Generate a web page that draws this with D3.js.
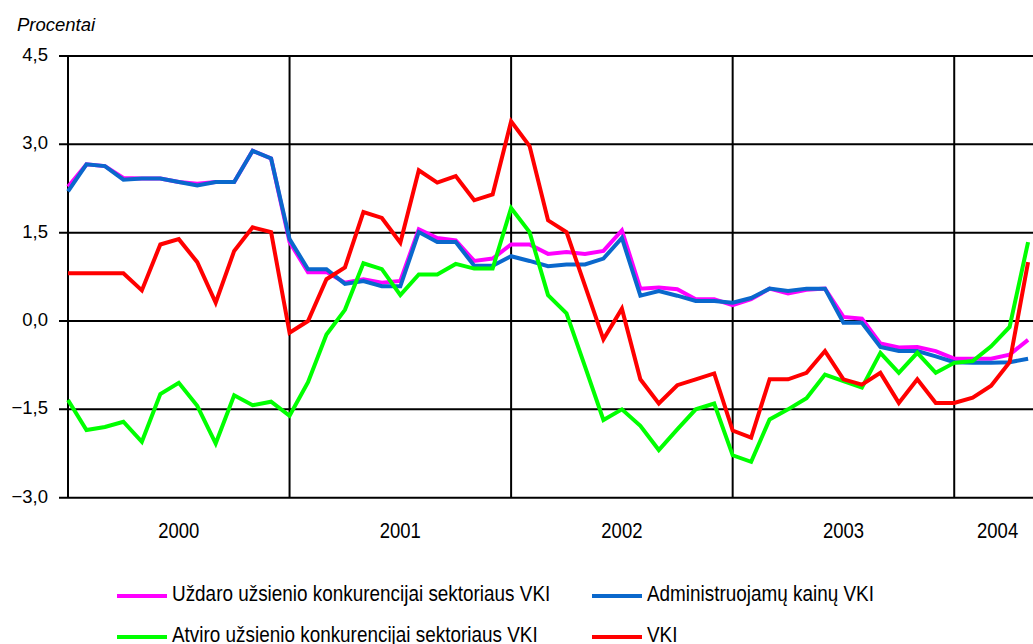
<!DOCTYPE html>
<html>
<head>
<meta charset="utf-8">
<script src="https://cdn.jsdelivr.net/npm/d3@7"></script>
<style>
    body { margin: 0; background: #fff; }
    svg { display: block; }
    text { font-family: "Liberation Sans", Arial, sans-serif; }
</style>
</head>
<body>
<div id="vki_chart"></div>
<script>
// monthly data, Jan 2000 .. May 2004
var years = ["2000", "2001", "2002", "2003", "2004"];

var uzdaro = [2.28, 2.66, 2.63, 2.43, 2.42, 2.42, 2.36, 2.33, 2.36, 2.36, 2.89, 2.76,
    1.34, 0.83, 0.83, 0.65, 0.71, 0.65, 0.68, 1.56, 1.41, 1.37, 1.02, 1.06,
    1.30, 1.30, 1.14, 1.17, 1.14, 1.19, 1.54, 0.55, 0.57, 0.54, 0.37, 0.37,
    0.27, 0.37, 0.55, 0.47, 0.53, 0.55, 0.07, 0.04, -0.38, -0.45, -0.44, -0.51,
    -0.64, -0.64, -0.64, -0.57, -0.32];

var administruojamu = [2.20, 2.66, 2.63, 2.40, 2.42, 2.42, 2.36, 2.30, 2.36, 2.36, 2.89, 2.76,
    1.39, 0.88, 0.88, 0.63, 0.68, 0.59, 0.59, 1.51, 1.34, 1.34, 0.94, 0.94,
    1.10, 1.02, 0.93, 0.96, 0.96, 1.06, 1.41, 0.43, 0.51, 0.43, 0.34, 0.34,
    0.31, 0.39, 0.55, 0.51, 0.55, 0.55, -0.03, -0.03, -0.44, -0.51, -0.51, -0.60,
    -0.70, -0.71, -0.71, -0.70, -0.64];

var atviro = [-1.34, -1.85, -1.80, -1.71, -2.05, -1.24, -1.05, -1.44, -2.08, -1.26, -1.43, -1.37,
    -1.61, -1.04, -0.23, 0.19, 0.98, 0.88, 0.44, 0.79, 0.79, 0.97, 0.89, 0.89,
    1.92, 1.51, 0.44, 0.13, -0.77, -1.68, -1.50, -1.78, -2.19, -1.84, -1.50, -1.40,
    -2.28, -2.39, -1.67, -1.50, -1.31, -0.91, -1.02, -1.13, -0.54, -0.88, -0.54, -0.88,
    -0.71, -0.68, -0.43, -0.10, 1.34];

var vki = [0.81, 0.81, 0.81, 0.81, 0.52, 1.30, 1.39, 1.00, 0.31, 1.19, 1.59, 1.51,
    -0.20, 0.00, 0.71, 0.91, 1.85, 1.75, 1.33, 2.56, 2.35, 2.46, 2.05, 2.15,
    3.39, 2.97, 1.71, 1.51, 0.60, -0.31, 0.21, -0.99, -1.40, -1.09, -0.99, -0.89,
    -1.86, -1.98, -0.99, -0.99, -0.88, -0.51, -0.99, -1.08, -0.88, -1.39, -0.99, -1.39,
    -1.39, -1.30, -1.10, -0.70, 1.00];

var yTicks = [-3, -1.5, 0, 1.5, 3, 4.5];

var series = [
    { name: "Uždaro užsienio konkurencijai sektoriaus VKI", values: uzdaro, color: "#ff00ff" },
    { name: "Administruojamų kainų VKI", values: administruojamu, color: "#0a68cc" },
    { name: "Atviro užsienio konkurencijai sektoriaus VKI", values: atviro, color: "#00ff00" },
    { name: "VKI", values: vki, color: "#ff0000" }
];

var width = 1033,
    height = 644;

var svg = d3.select("#vki_chart")
    .append("svg")
    .attr("width", width)
    .attr("height", height);

// x: month index (0 = Jan 2000), plot is cut a bit after May 2004
var lastMonth = 52.7;
var x = d3.scaleLinear()
    .domain([0, lastMonth])
    .range([68, 1041]);

var y = d3.scaleLinear()
    .domain([-3, 4.5])
    .range([497.7, 56]);

// no narrow font installed -> squeeze the normal one
var narrow = 0.84;

// horizontal grid + tick marks
svg.append("g")
    .selectAll("line")
    .data(yTicks)
    .enter()
    .append("line")
    .attr("x1", x(0) - 9)
    .attr("x2", x(lastMonth))
    .attr("y1", function(d) { return y(d) })
    .attr("y2", function(d) { return y(d) })
    .attr("stroke", "black")
    .attr("stroke-width", 2);

// vertical lines at year starts
svg.append("g")
    .selectAll("line")
    .data(years)
    .enter()
    .append("line")
    .attr("x1", function(d, i) { return x(i * 12) })
    .attr("x2", function(d, i) { return x(i * 12) })
    .attr("y1", y(4.5))
    .attr("y2", y(-3))
    .attr("stroke", "black")
    .attr("stroke-width", 2);

// y labels
svg.append("g")
    .selectAll("text")
    .data(yTicks)
    .enter()
    .append("text")
    .attr("x", 48)
    .attr("y", function(d) { return y(d) + 5 })
    .attr("text-anchor", "end")
    .style("font-size", "18.5px")
    .text(function(d) {
        return d3.format(".1f")(d).replace(".", ",").replace("-", "\u2013")
    });

svg.append("text")
    .attr("x", 17)
    .attr("y", 31)
    .style("font-size", "18.5px")
    .style("font-style", "italic")
    .text("Procentai");

// year labels, centred in the visible part of each year
svg.append("g")
    .selectAll("text")
    .data(years)
    .enter()
    .append("text")
    .attr("transform", function(d, i) {
        var cx = (x(i * 12) + x(Math.min((i + 1) * 12, lastMonth))) / 2;
        return "translate(" + cx + ",538) scale(" + narrow + ",1)"
    })
    .attr("text-anchor", "middle")
    .style("font-size", "22px")
    .text(function(d) { return d });

// lines
var line = d3.line()
    .x(function(d, i) { return x(i) })
    .y(function(d) { return y(d) });

svg.append("g")
    .selectAll("path")
    .data(series)
    .enter()
    .append("path")
    .attr("d", function(d) { return line(d.values) })
    .attr("fill", "none")
    .attr("stroke", function(d) { return d.color })
    .attr("stroke-width", 4);

// legend (2 x 2, row major)
var legendPos = [
    { lx: 117, ly: 596 },
    { lx: 592, ly: 596 },
    { lx: 117, ly: 637 },
    { lx: 592, ly: 637 }
];

var legend = svg.append("g")
    .selectAll("g")
    .data(series)
    .enter()
    .append("g")
    .attr("transform", function(d, i) {
        return "translate(" + legendPos[i].lx + "," + legendPos[i].ly + ")"
    });

legend.append("line")
    .attr("x1", 0)
    .attr("x2", 50)
    .attr("stroke", function(d) { return d.color })
    .attr("stroke-width", 4);

legend.append("text")
    .attr("transform", "translate(55,5) scale(" + 0.86 + ",1)")
    .style("font-size", "22px")
    .text(function(d) { return d.name });
</script>
</body>
</html>
